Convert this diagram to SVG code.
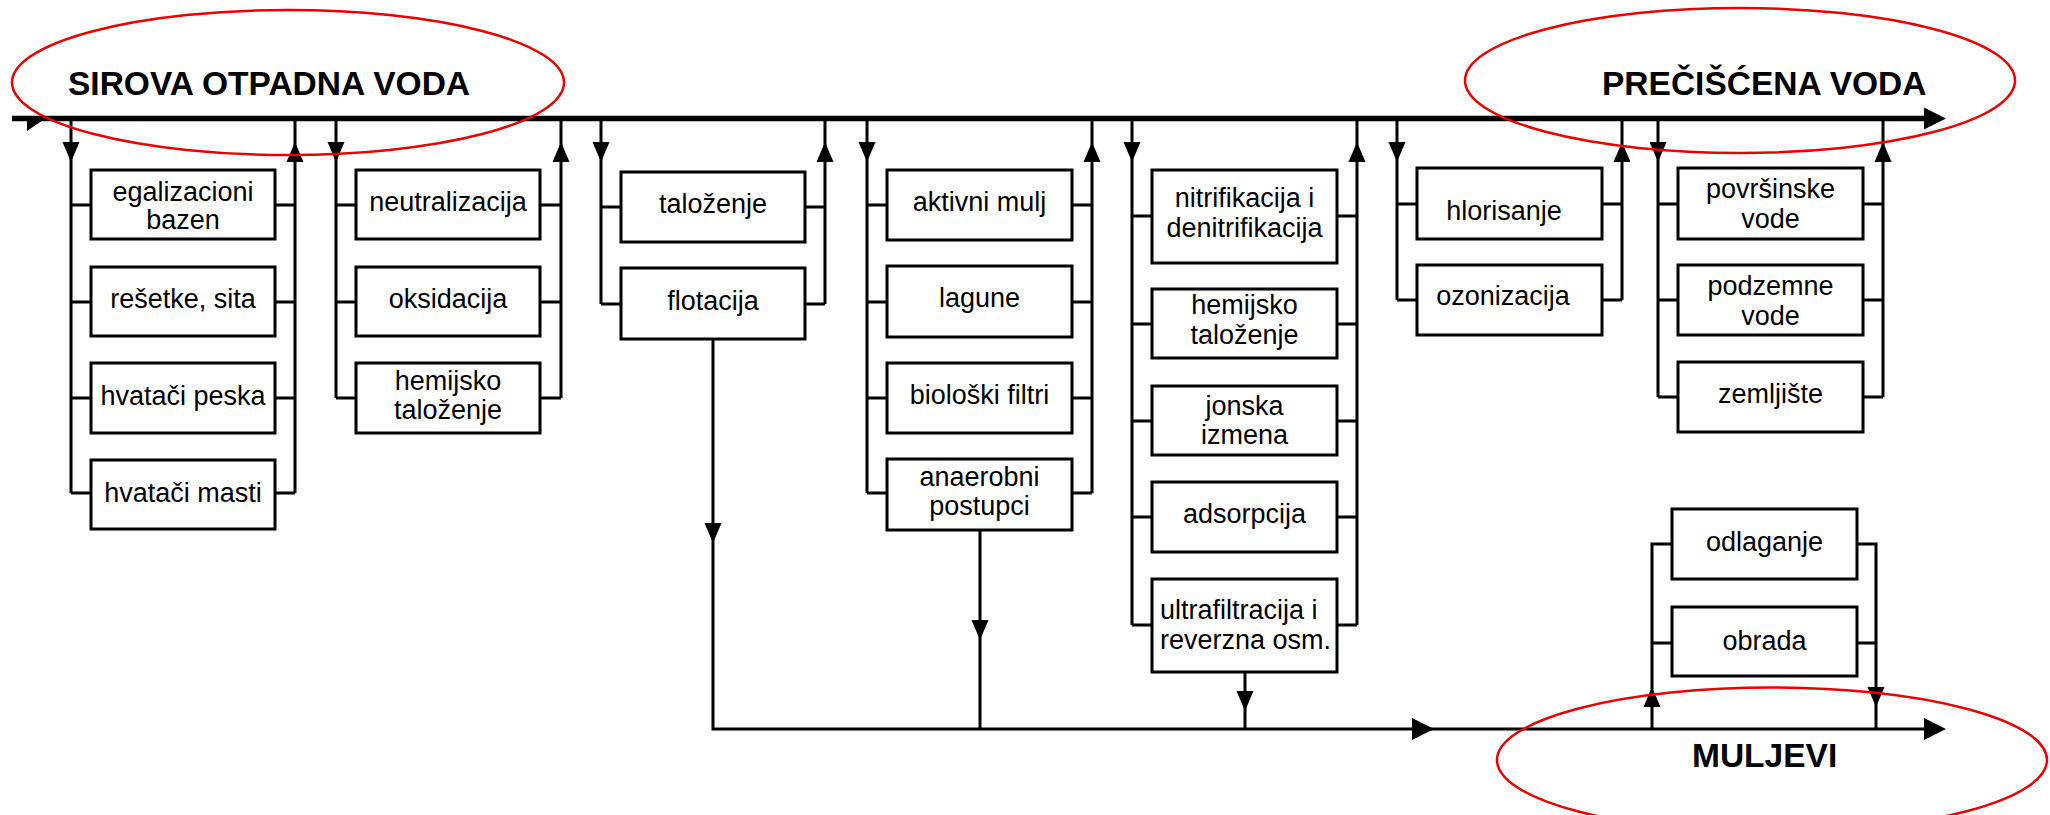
<svg xmlns="http://www.w3.org/2000/svg" xmlns:xlink="http://www.w3.org/1999/xlink" width="2050" height="815" viewBox="0 0 2050 815">
<style>
.box{fill:#fff;stroke:#000;stroke-width:3}
.ln{fill:none;stroke:#000;stroke-width:3}
.main{fill:none;stroke:#000;stroke-width:5.5}
.ell{fill:none;stroke:#e00;stroke-width:2.5}
.lbl{font-family:"Liberation Sans",Arial,sans-serif;font-size:27px;fill:#000;text-anchor:middle}
.lft{text-anchor:start}
.hd{font-family:"Liberation Sans",Arial,sans-serif;font-size:33.5px;font-weight:bold;fill:#000}
</style>
<defs>
<path id="ad" d="M-8.5,-20 L8.5,-20 L0,0 Z"/>
<path id="au" d="M-8.5,20 L8.5,20 L0,0 Z"/>
<path id="ar" d="M-22,-11 L0,0 L-22,11 Z"/>
</defs>
<rect width="2050" height="815" fill="#fff"/>

<g id="connectors">
  <!-- main water line -->
  <line class="main" x1="12" y1="118.5" x2="1928" y2="118.5"/>
  <use xlink:href="#ar" x="1946" y="118.5"/>
  <polygon points="27,118 46,118 27,131" fill="#000"/>
  <!-- branch 1 -->
  <path class="ln" d="M71,118 V493 M71,205 H91 M71,302 H91 M71,398 H91 M71,493 H91"/>
  <path class="ln" d="M295,118 V493 M275,205 H295 M275,302 H295 M275,398 H295 M275,493 H295"/>
  <use xlink:href="#ad" x="71" y="162"/><use xlink:href="#au" x="295" y="142"/>
  <!-- branch 2 -->
  <path class="ln" d="M336,118 V398 M336,205 H356 M336,302 H356 M336,398 H356"/>
  <path class="ln" d="M561,118 V398 M540,205 H561 M540,302 H561 M540,398 H561"/>
  <use xlink:href="#ad" x="336" y="162"/><use xlink:href="#au" x="561" y="142"/>
  <!-- branch 3 -->
  <path class="ln" d="M601,118 V304 M601,207 H621 M601,304 H621"/>
  <path class="ln" d="M825,118 V304 M805,207 H825 M805,304 H825"/>
  <use xlink:href="#ad" x="601" y="162"/><use xlink:href="#au" x="825" y="142"/>
  <!-- branch 4 -->
  <path class="ln" d="M867,118 V493 M867,205 H887 M867,302 H887 M867,398 H887 M867,493 H887"/>
  <path class="ln" d="M1092,118 V493 M1072,205 H1092 M1072,302 H1092 M1072,398 H1092 M1072,493 H1092"/>
  <use xlink:href="#ad" x="867" y="162"/><use xlink:href="#au" x="1092" y="142"/>
  <!-- branch 5 -->
  <path class="ln" d="M1132,118 V625 M1132,216 H1152 M1132,324 H1152 M1132,421 H1152 M1132,517 H1152 M1132,625 H1152"/>
  <path class="ln" d="M1357,118 V625 M1337,216 H1357 M1337,324 H1357 M1337,421 H1357 M1337,517 H1357 M1337,625 H1357"/>
  <use xlink:href="#ad" x="1132" y="162"/><use xlink:href="#au" x="1357" y="142"/>
  <!-- branch 6 -->
  <path class="ln" d="M1397,118 V300 M1397,204 H1417 M1397,300 H1417"/>
  <path class="ln" d="M1622,118 V300 M1602,204 H1622 M1602,300 H1622"/>
  <use xlink:href="#ad" x="1397" y="162"/><use xlink:href="#au" x="1622" y="142"/>
  <!-- branch 7 -->
  <path class="ln" d="M1658,118 V397 M1658,204 H1678 M1658,300 H1678 M1658,397 H1678"/>
  <path class="ln" d="M1883,118 V397 M1863,204 H1883 M1863,300 H1883 M1863,397 H1883"/>
  <use xlink:href="#ad" x="1658" y="162"/><use xlink:href="#au" x="1883" y="142"/>
  <!-- sludge line -->
  <path class="ln" d="M713,339 V729 H1930"/>
  <path class="ln" d="M980,530 V729 M1245,672 V729"/>
  <use xlink:href="#ad" x="713" y="543"/>
  <use xlink:href="#ad" x="980" y="640"/>
  <use xlink:href="#ad" x="1245" y="711"/>
  <use xlink:href="#ar" x="1434" y="729"/>
  <use xlink:href="#ar" x="1946" y="729"/>
  <!-- sludge branch -->
  <path class="ln" d="M1652,729 V544 H1672 M1652,643 H1672"/>
  <path class="ln" d="M1876,729 V544 H1857 M1857,643 H1876"/>
  <use xlink:href="#au" x="1652" y="687"/>
  <use xlink:href="#ad" x="1876" y="707"/>
</g>

<g id="n-egalizacioni"><rect class="box" x="91" y="170" width="184" height="69"/><text class="lbl" x="183" y="201">egalizacioni<tspan x="183" dy="28">bazen</tspan></text></g>
<g id="n-resetke"><rect class="box" x="91" y="267" width="184" height="69"/><text class="lbl" x="183" y="308">rešetke, sita</text></g>
<g id="n-hvatacipeska"><rect class="box" x="91" y="363" width="184" height="70"/><text class="lbl" x="183" y="405">hvatači peska</text></g>
<g id="n-hvatacimasti"><rect class="box" x="91" y="460" width="184" height="69"/><text class="lbl" x="183" y="502">hvatači masti</text></g>

<g id="n-neutralizacija"><rect class="box" x="356" y="170" width="184" height="69"/><text class="lbl" x="448" y="211">neutralizacija</text></g>
<g id="n-oksidacija"><rect class="box" x="356" y="267" width="184" height="69"/><text class="lbl" x="448" y="308">oksidacija</text></g>
<g id="n-hemijsko1"><rect class="box" x="356" y="363" width="184" height="70"/><text class="lbl" x="448" y="390">hemijsko<tspan x="448" dy="29">taloženje</tspan></text></g>

<g id="n-talozenje"><rect class="box" x="621" y="172" width="184" height="70"/><text class="lbl" x="713" y="213">taloženje</text></g>
<g id="n-flotacija"><rect class="box" x="621" y="268" width="184" height="71"/><text class="lbl" x="713" y="310">flotacija</text></g>

<g id="n-aktivnimulj"><rect class="box" x="887" y="170" width="185" height="70"/><text class="lbl" x="979.5" y="211">aktivni mulj</text></g>
<g id="n-lagune"><rect class="box" x="887" y="266" width="185" height="71"/><text class="lbl" x="979.5" y="307">lagune</text></g>
<g id="n-bioloskifiltri"><rect class="box" x="887" y="363" width="185" height="70"/><text class="lbl" x="979.5" y="404">biološki filtri</text></g>
<g id="n-anaerobni"><rect class="box" x="887" y="459" width="185" height="71"/><text class="lbl" x="979.5" y="486">anaerobni<tspan x="979.5" dy="29">postupci</tspan></text></g>

<g id="n-nitrifikacija"><rect class="box" x="1152" y="170" width="185" height="93"/><text class="lbl" x="1244.5" y="207">nitrifikacija i<tspan x="1244.5" dy="30">denitrifikacija</tspan></text></g>
<g id="n-hemijsko2"><rect class="box" x="1152" y="289" width="185" height="69"/><text class="lbl" x="1244.5" y="314">hemijsko<tspan x="1244.5" dy="30">taloženje</tspan></text></g>
<g id="n-jonska"><rect class="box" x="1152" y="386" width="185" height="69"/><text class="lbl" x="1244.5" y="415">jonska<tspan x="1244.5" dy="29">izmena</tspan></text></g>
<g id="n-adsorpcija"><rect class="box" x="1152" y="482" width="185" height="70"/><text class="lbl" x="1244.5" y="523">adsorpcija</text></g>
<g id="n-ultrafiltracija"><rect class="box" x="1152" y="579" width="185" height="93"/><text class="lbl lft" x="1160" y="619">ultrafiltracija i<tspan x="1160" dy="30">reverzna osm.</tspan></text></g>

<g id="n-hlorisanje"><rect class="box" x="1417" y="168" width="185" height="71"/><text class="lbl" x="1504" y="220">hlorisanje</text></g>
<g id="n-ozonizacija"><rect class="box" x="1417" y="265" width="185" height="70"/><text class="lbl" x="1503" y="305">ozonizacija</text></g>

<g id="n-povrsinske"><rect class="box" x="1678" y="168" width="185" height="71"/><text class="lbl" x="1770.5" y="198">površinske<tspan x="1770.5" dy="30">vode</tspan></text></g>
<g id="n-podzemne"><rect class="box" x="1678" y="265" width="185" height="70"/><text class="lbl" x="1770.5" y="295">podzemne<tspan x="1770.5" dy="30">vode</tspan></text></g>
<g id="n-zemljiste"><rect class="box" x="1678" y="362" width="185" height="70"/><text class="lbl" x="1770.5" y="403">zemljište</text></g>

<g id="n-odlaganje"><rect class="box" x="1672" y="509" width="185" height="70"/><text class="lbl" x="1764.5" y="551">odlaganje</text></g>
<g id="n-obrada"><rect class="box" x="1672" y="607" width="185" height="69"/><text class="lbl" x="1764.5" y="650">obrada</text></g>

<g id="n-sirova"><text class="hd" x="68" y="95">SIROVA OTPADNA VODA</text><ellipse class="ell" cx="288" cy="82.5" rx="276" ry="72.5"/></g>
<g id="n-preciscena"><text class="hd" x="1602" y="95">PREČIŠĆENA VODA</text><ellipse class="ell" cx="1740" cy="80.5" rx="275" ry="72.5"/></g>
<g id="n-muljevi"><text class="hd" x="1692" y="767">MULJEVI</text><ellipse class="ell" cx="1772" cy="760" rx="275" ry="72.5"/></g>
</svg>
